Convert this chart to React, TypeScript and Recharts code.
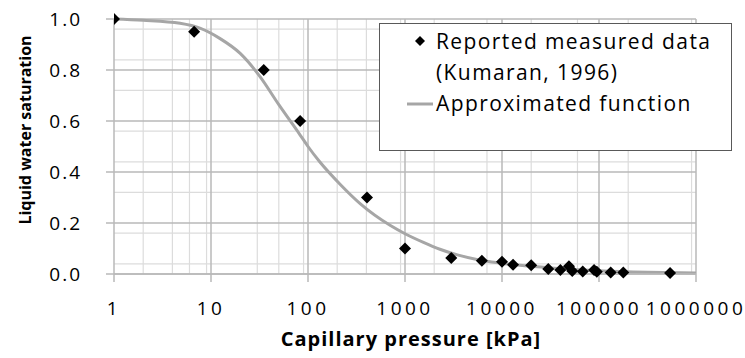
import React from 'react';
import {
    CartesianGrid,
    ComposedChart,
    Legend,
    Line,
    Scatter,
    XAxis,
    YAxis,
} from 'recharts';

// measured points (Kumaran, 1996)
const measuredPressure = [
    1, 6.7, 35, 83, 406, 1000, 3000, 6200, 10000, 13000, 20000, 30000, 40000, 49000, 53000, 68000,
    89000, 95000, 132000, 178000, 540000,
];
const measuredSaturation = [
    1.0, 0.95, 0.8, 0.6, 0.3, 0.1, 0.063, 0.052, 0.048, 0.036, 0.034, 0.02, 0.016, 0.03, 0.012, 0.01,
    0.016, 0.009, 0.006, 0.006, 0.004,
];

// approximated function, sampled from the drawn curve
const curvePressure = [
    1, 2, 4.8, 7.8, 12.3, 20, 32, 50, 83, 100, 132, 214, 347, 708, 1000, 1550, 2290, 3470, 5500,
    9550, 16200, 31600, 100000, 316000, 1000000,
];
const curveSaturation = [
    1.0, 0.995, 0.983, 0.963, 0.924, 0.865, 0.774, 0.664, 0.545, 0.5, 0.44, 0.352, 0.275, 0.19,
    0.158, 0.124, 0.097, 0.075, 0.057, 0.043, 0.033, 0.024, 0.013, 0.007, 0.004,
];

const xTicks = [1, 10, 100, 1000, 10000, 100000, 1000000];
const yTicks = [0, 0.2, 0.4, 0.6, 0.8, 1.0];
const yMinor = [
    0.04, 0.08, 0.12, 0.16, 0.24, 0.28, 0.32, 0.36, 0.44, 0.48, 0.52, 0.56, 0.64, 0.68, 0.72, 0.76,
    0.84, 0.88, 0.92, 0.96,
];

const seriesNames = ['Reported measured data', '(Kumaran, 1996)', 'Approximated function'];
const xTitle = 'Capillary pressure [kPa]';
const yTitle = 'Liquid water saturation';

const xMinor: number[] = [];
xTicks.slice(0, -1).forEach((d) => {
    for (let k = 2; k <= 9; k++) xMinor.push(d * k);
});

const measured = measuredPressure.map((p, i) => ({ p, s: measuredSaturation[i] }));
const curve = curvePressure.map((p, i) => ({ p, s: curveSaturation[i] }));

const FONT = '"Open Sans", sans-serif';

function Diamond(props: any) {
    const { cx, cy } = props;
    const r = 6;
    return (
        <polygon
            points={`${cx},${cy - r} ${cx + r},${cy} ${cx},${cy + r} ${cx - r},${cy}`}
            fill="#000"
        />
    );
}

function LegendBox() {
    return (
        <div
            style={{
                width: 353,
                height: 128,
                boxSizing: 'border-box',
                border: '1.5px solid #595959',
                background: '#fff',
                fontFamily: FONT,
                fontSize: 21,
                letterSpacing: 1.4,
                color: '#000',
                position: 'relative',
            }}
        >
            <svg width={353} height={128} style={{ position: 'absolute', left: 0, top: 0 }}>
                <polygon points="40,12 45,17 40,22 35,17" fill="#000" />
                <line x1={27} y1={80} x2={53} y2={80} stroke="#a6a6a6" strokeWidth={3} />
            </svg>
            <div style={{ position: 'absolute', left: 56, top: 2, lineHeight: '31px', whiteSpace: 'nowrap' }}>
                <div>{seriesNames[0]}</div>
                <div>{seriesNames[1]}</div>
                <div>{seriesNames[2]}</div>
            </div>
        </div>
    );
}

export default function App() {
    return (
        <div style={{ position: 'absolute', left: 0, top: 0, width: 745, height: 358, background: '#fff' }}>
            <ComposedChart
                width={745}
                height={358}
                margin={{ top: 19, right: 49, bottom: 0, left: 0 }}
                style={{ fontFamily: FONT }}
            >
                <CartesianGrid
                    stroke="#dcdcdc"
                    strokeWidth={1.2}
                    horizontalValues={yMinor}
                    verticalValues={xMinor}
                />
                <CartesianGrid
                    stroke="#b8b8b8"
                    strokeWidth={1.5}
                    horizontalValues={yTicks}
                    verticalValues={xTicks}
                />
                <XAxis
                    dataKey="p"
                    type="number"
                    scale="log"
                    domain={[1, 1000000]}
                    ticks={xTicks}
                    allowDataOverflow
                    height={84}
                    tickSize={8}
                    tickMargin={20}
                    axisLine={{ stroke: '#b8b8b8', strokeWidth: 1.5 }}
                    tickLine={{ stroke: '#b8b8b8', strokeWidth: 1.5 }}
                    tick={{ fill: '#000', fontSize: 19, letterSpacing: 3.5 }}
                    label={{
                        value: xTitle,
                        position: 'insideBottom',
                        offset: 12,
                        dx: 6,
                        fill: '#000',
                        fontSize: 20,
                        fontWeight: 'bold',
                        letterSpacing: 1,
                    }}
                />
                <YAxis
                    dataKey="s"
                    type="number"
                    domain={[0, 1]}
                    ticks={yTicks}
                    width={114}
                    tickSize={8}
                    tickMargin={24}
                    tickFormatter={(v: number) => v.toFixed(1)}
                    axisLine={false}
                    tickLine={{ stroke: '#b8b8b8', strokeWidth: 1.5 }}
                    tick={{ fill: '#000', fontSize: 19, letterSpacing: 2 }}
                    label={{
                        content: () => (
                            <text
                                x={25}
                                y={130}
                                transform="rotate(-90 25 130)"
                                textAnchor="middle"
                                dominantBaseline="central"
                                fill="#000"
                                fontSize={16}
                                fontWeight="bold"
                                fontFamily={FONT}
                            >
                                {yTitle}
                            </text>
                        ),
                    }}
                />
                <Line
                    data={curve}
                    dataKey="s"
                    type="monotone"
                    stroke="#a6a6a6"
                    strokeWidth={3}
                    dot={false}
                    activeDot={false}
                    isAnimationActive={false}
                    name={seriesNames[2]}
                />
                <Scatter
                    data={measured}
                    dataKey="s"
                    shape={<Diamond />}
                    isAnimationActive={false}
                    name={seriesNames[0]}
                />
                <Legend
                    layout="horizontal"
                    verticalAlign="middle"
                    align="center"
                    content={() => <LegendBox />}
                    wrapperStyle={{ left: 379, top: 23, width: 353, height: 128 }}
                />
            </ComposedChart>
        </div>
    );
}
